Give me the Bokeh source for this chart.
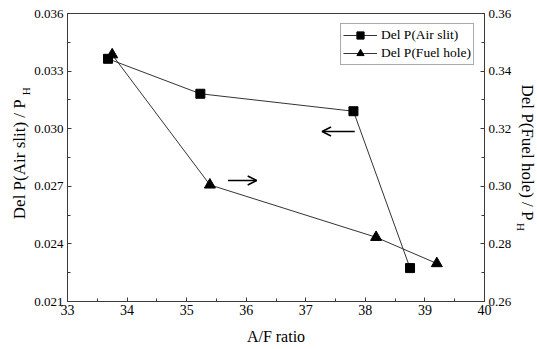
import math
from bokeh.plotting import figure
from bokeh.layouts import row
from bokeh.models import (Range1d, LinearAxis, FixedTicker, NumeralTickFormatter,
                          Legend, LegendItem, Arrow, OpenHead, Label)
from bokeh.embed import file_html
from bokeh.resources import INLINE

# ---- data ----
af_air = [33.68, 35.23, 37.80, 38.75]
dp_air = [0.03364, 0.03182, 0.03091, 0.02274]
af_fuel = [33.75, 35.39, 38.18, 39.20]
dp_fuel = [0.3457, 0.3005, 0.2823, 0.2732]
series_names = ["Del P(Air slit)", "Del P(Fuel hole)"]
x_ticks = [33, 34, 35, 36, 37, 38, 39, 40]
y_left_ticks = [0.021, 0.024, 0.027, 0.030, 0.033, 0.036]
y_right_ticks = [0.26, 0.28, 0.30, 0.32, 0.34, 0.36]
x_label = "A/F ratio"
y_left_label = "Del P(Air slit)  / P"
y_right_label = "Del P(Fuel hole)  / P"
sub_label = "H"

W, H = 537, 349
LW, RW = 31, 23            # side strips holding the y titles
L, R, T, B = 65, 51, 13, 48  # frame borders in the full picture
X0, X1 = 33, 40
Y0, Y1 = 0.021, 0.036
MW = W - LW - RW
FW, FH = W - L - R, H - T - B


def dx(px):
    return X0 + (px - L) * (X1 - X0) / FW


def dy(py):
    return Y1 - (py - T) * (Y1 - Y0) / FH


def mids(t):
    return [(a + b) / 2 for a, b in zip(t[:-1], t[1:])]


SERIF = "Liberation Serif"
AX = "#3a3a3a"

p = figure(width=MW, height=H, output_backend="svg", toolbar_location=None,
           x_range=Range1d(X0, X1), y_range=Range1d(Y0, Y1),
           min_border_left=L - LW, min_border_right=R - RW, min_border_top=T, min_border_bottom=B)
p.extra_y_ranges = {"right": Range1d(0.26, 0.36)}
p.grid.visible = False
p.outline_line_color = AX
p.background_fill_color = "white"
p.border_fill_color = "white"

raxis = LinearAxis(y_range_name="right")
p.add_layout(raxis, "right")

p.xaxis.ticker = FixedTicker(ticks=x_ticks, minor_ticks=mids(x_ticks))
p.yaxis[0].ticker = FixedTicker(ticks=y_left_ticks, minor_ticks=mids(y_left_ticks))
p.yaxis[0].formatter = NumeralTickFormatter(format="0.000")
raxis.ticker = FixedTicker(ticks=y_right_ticks, minor_ticks=mids(y_right_ticks))
raxis.formatter = NumeralTickFormatter(format="0.00")

for ax in [p.xaxis[0], p.yaxis[0], raxis]:
    ax.axis_line_color = AX
    ax.major_tick_line_color = AX
    ax.minor_tick_line_color = AX
    ax.major_tick_in = 4
    ax.major_tick_out = 0
    ax.minor_tick_in = 3
    ax.minor_tick_out = 0
    ax.major_label_text_font = SERIF
    ax.major_label_text_font_size = "13px"
    ax.major_label_text_color = "black"
    ax.major_label_standoff = 4
p.xaxis.major_label_text_font_size = "14px"
p.xaxis.major_label_standoff = 3
p.xaxis.axis_label = x_label
p.xaxis.axis_label_text_font = SERIF
p.xaxis.axis_label_text_font_size = "16px"
p.xaxis.axis_label_text_font_style = "normal"
p.xaxis.axis_label_text_color = "black"
p.xaxis.axis_label_standoff = 10

LC = "#333333"
l1 = p.line(af_air, dp_air, line_color=LC, line_width=1)
s1 = p.scatter(af_air, dp_air, marker="square", size=9, fill_color="black", line_color="black")
l2 = p.line(af_fuel, dp_fuel, line_color=LC, line_width=1, y_range_name="right")
s2 = p.scatter(af_fuel, dp_fuel, marker="triangle", size=11, fill_color="black", line_color="black",
               y_range_name="right")

legend = Legend(items=[LegendItem(label=series_names[0], renderers=[l1, s1]),
                       LegendItem(label=series_names[1], renderers=[l2, s2])],
                location="top_right", border_line_color="#555555", border_line_width=1,
                label_text_font=SERIF, label_text_font_size="13.5px", label_text_color="black",
                glyph_width=34, glyph_height=18, padding=2, spacing=0, margin=10,
                label_standoff=4, label_height=18)
p.add_layout(legend)

# direction arrows
p.add_layout(Arrow(end=OpenHead(size=9, line_width=1.5, line_color="black"),
                   x_start=dx(355), y_start=dy(131), x_end=dx(322), y_end=dy(131),
                   line_width=1.5, line_color="black"))
p.add_layout(Arrow(end=OpenHead(size=9, line_width=1.5, line_color="black"),
                   x_start=dx(227), y_start=dy(180), x_end=dx(256), y_end=dy(180),
                   line_width=1.5, line_color="black"))


def strip(width):
    f = figure(width=width, height=H, output_backend="svg", toolbar_location=None,
               x_range=Range1d(0, width), y_range=Range1d(0, H),
               min_border=0, outline_line_color=None)
    f.axis.visible = False
    f.grid.visible = False
    f.background_fill_color = "white"
    f.border_fill_color = "white"
    return f


def title_label(fig, x, y, text, angle, size, align):
    fig.add_layout(Label(x=x, y=y, text=text, angle=angle, text_align=align,
                         text_baseline="middle", text_font=SERIF,
                         text_font_size=size, text_color="black"))


# left title strip (pixel coordinates, y measured up from bottom)
left = strip(LW)
title_label(left, 19, H - 174, y_left_label, math.pi / 2, "17px", "center")
title_label(left, 25.5, H - 99, sub_label, math.pi / 2, "11px", "left")

# right title strip
right = strip(RW)
title_label(right, 527 - (W - RW), H - 171, y_right_label, -math.pi / 2, "17px", "center")
title_label(right, 520 - (W - RW), H - 254, sub_label, -math.pi / 2, "11px", "left")

layout = row(left, p, right, spacing=0)
open("out.html", "w").write(file_html(layout, INLINE))
